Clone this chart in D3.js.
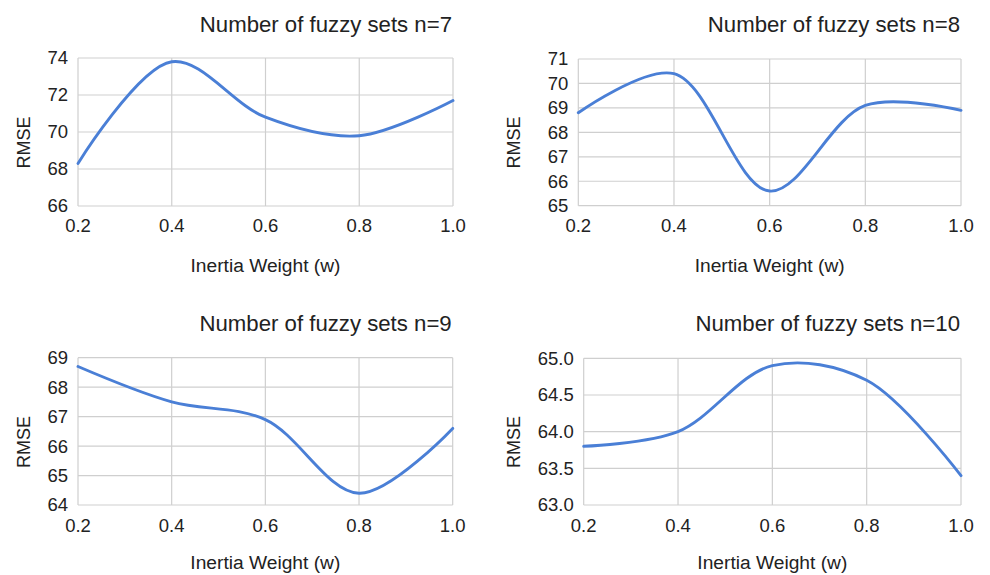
<!DOCTYPE html>
<html><head><meta charset="utf-8">
<script src="https://cdn.jsdelivr.net/npm/d3@7/dist/d3.min.js"></script>
<style>body{margin:0;background:#fff}svg{display:block}text{font-family:"Liberation Sans",Arial,sans-serif;fill:#222}</style>
</head><body>
<script>
const xValues = [0.2, 0.4, 0.6, 0.8, 1.0];
const xTicks = [0.2, 0.4, 0.6, 0.8, 1.0];
const rmseN7 = [68.3, 73.8, 70.8, 69.8, 71.7];
const rmseN8 = [68.8, 70.4, 65.6, 69.1, 68.9];
const rmseN9 = [68.7, 67.5, 66.9, 64.4, 66.6];
const rmseN10 = [63.8, 64.0, 64.9, 64.7, 63.4];
const titles = ["Number of fuzzy sets n=7", "Number of fuzzy sets n=8", "Number of fuzzy sets n=9", "Number of fuzzy sets n=10"];
const yTicksN7 = [66, 68, 70, 72, 74];
const yTicksN8 = [65, 66, 67, 68, 69, 70, 71];
const yTicksN9 = [64, 65, 66, 67, 68, 69];
const yTicksN10 = [63.0, 63.5, 64.0, 64.5, 65.0];
const xLabel = "Inertia Weight (w)";
const yLabel = "RMSE";

const svg = d3.select("body").append("svg").attr("width", 990).attr("height", 575);

const panels = [
  {vals: rmseN7, ticks: yTicksN7, fmt: d3.format("d"), title: titles[0],
   box: {l: 78, r: 453, t: 58, b: 206}, titleY: 31.7, yLabX: 23.5, yLabY: 142.5, xTickY: 232, xTitleY: 272},
  {vals: rmseN8, ticks: yTicksN8, fmt: d3.format("d"), title: titles[1],
   box: {l: 578.3, r: 961, t: 59, b: 205.7}, titleY: 31.7, yLabX: 513.5, yLabY: 142.5, xTickY: 232, xTitleY: 272},
  {vals: rmseN9, ticks: yTicksN9, fmt: d3.format("d"), title: titles[2],
   box: {l: 78, r: 452.7, t: 357.7, b: 505}, titleY: 330.7, yLabX: 23.5, yLabY: 442, xTickY: 531.5, xTitleY: 569},
  {vals: rmseN10, ticks: yTicksN10, fmt: d3.format(".1f"), title: titles[3],
   box: {l: 583.7, r: 961, t: 358.3, b: 505}, titleY: 330.7, yLabX: 513.5, yLabY: 442, xTickY: 531.5, xTitleY: 569}
];

panels.forEach(p => {
  const b = p.box;
  const x = d3.scaleLinear().domain([0.2, 1.0]).range([b.l, b.r]);
  const y = d3.scaleLinear().domain(d3.extent(p.ticks)).range([b.b, b.t]);
  const g = svg.append("g");

  g.selectAll("line.vx").data(xTicks).join("line")
    .attr("x1", d => x(d)).attr("x2", d => x(d)).attr("y1", b.t).attr("y2", b.b)
    .attr("stroke", "#cfcfcf").attr("stroke-width", 1.2);
  g.selectAll("line.hy").data(p.ticks).join("line")
    .attr("x1", b.l).attr("x2", b.r).attr("y1", d => y(d)).attr("y2", d => y(d))
    .attr("stroke", "#cfcfcf").attr("stroke-width", 1.2);

  g.selectAll("text.yt").data(p.ticks).join("text")
    .attr("x", b.l - 10).attr("y", d => y(d)).attr("dy", "0.35em")
    .attr("text-anchor", "end").style("font-size", "18.5px").text(d => p.fmt(d));
  g.selectAll("text.xt").data(xTicks).join("text")
    .attr("x", d => x(d)).attr("y", p.xTickY)
    .attr("text-anchor", "middle").style("font-size", "18.5px").text(d => d3.format(".1f")(d));

  const line = d3.line().x((d, i) => x(xValues[i])).y(d => y(d)).curve(d3.curveCatmullRom.alpha(0.5));
  g.append("path").datum(p.vals).attr("d", line)
    .attr("fill", "none").attr("stroke", "#4a7fd6").attr("stroke-width", 2.9)
    .attr("stroke-linecap", "round");

  g.append("text").attr("x", b.r - 1).attr("y", p.titleY).attr("text-anchor", "end")
    .style("font-size", "22.2px").text(p.title);
  g.append("text").attr("x", (b.l + b.r) / 2).attr("y", p.xTitleY).attr("text-anchor", "middle")
    .style("font-size", "19.2px").text(xLabel);
  g.append("text").attr("transform", `translate(${p.yLabX},${p.yLabY}) rotate(-90)`)
    .attr("text-anchor", "middle").attr("dy", "0.35em").style("font-size", "18px").text(yLabel);
});
</script>
</body></html>
